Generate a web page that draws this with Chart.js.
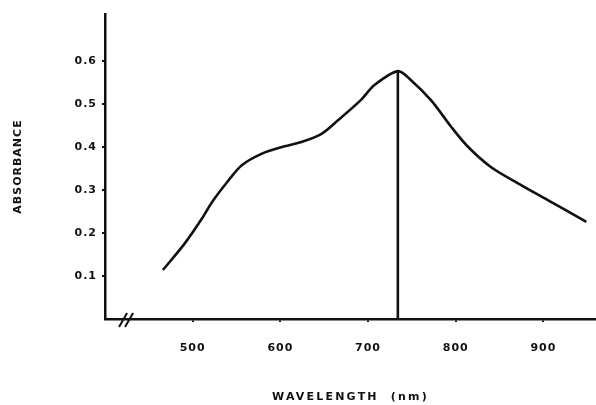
<!DOCTYPE html>
<html>
<head>
<meta charset="utf-8">
<script src="https://cdn.jsdelivr.net/npm/chart.js@4"></script>
<style>
  html, body { margin: 0; padding: 0; background: #fff; }
  #wrap { width: 596px; height: 405px; }
</style>
</head>
<body>
<div id="wrap"><canvas id="chart"></canvas></div>
<script>
// Absorbance spectrum
const WAVELENGTHS = [466, 491, 510, 522, 541, 556, 579, 601, 624, 647, 666, 692, 707, 734, 749, 772, 795, 814, 840, 871, 905, 949];
const ABSORBANCE = [0.114, 0.176, 0.232, 0.272, 0.323, 0.358, 0.385, 0.400, 0.412, 0.431, 0.463, 0.51, 0.544, 0.577, 0.556, 0.509, 0.447, 0.401, 0.354, 0.316, 0.277, 0.226];

// Peak marker line
const PEAK_X = [734, 734];
const PEAK_Y = [0, 0.577];

// Tick labels
const X_TICKS = [500, 600, 700, 800, 900];
const Y_TICKS = [0.1, 0.2, 0.3, 0.4, 0.5, 0.6];

const INK = '#111';

// Spaced-out lettering like the original typewritten labels
const TITLE_SPACING = { x: '2.2px', y: '1px' };
const letterSpacing = {
    id: 'letterSpacing',
    beforeDraw(chart) {
        const ctx = chart.ctx;
        Object.values(chart.scales).forEach(scale => {
            if (scale._spaced) return;
            const orig = scale.drawTitle;
            scale.drawTitle = function () {
                ctx.letterSpacing = TITLE_SPACING[this.id] || '0px';
                orig.call(this);
                ctx.letterSpacing = '1px';
            };
            scale._spaced = true;
        });
        ctx.letterSpacing = '1px';
    },
    afterDraw(chart) { chart.ctx.letterSpacing = '0px'; }
};

// The "//" break mark on the x axis
const axisBreak = {
    id: 'axisBreak',
    afterDraw(chart) {
        const ctx = chart.ctx;
        const x = chart.scales.x.getPixelForValue(424);
        const y = chart.scales.x.top;
        ctx.save();
        ctx.strokeStyle = INK;
        ctx.lineWidth = 2;
        [-3, 3].forEach(dx => {
            ctx.beginPath();
            ctx.moveTo(x + dx - 4, y + 8);
            ctx.lineTo(x + dx + 4, y - 6);
            ctx.stroke();
        });
        ctx.restore();
    }
};

const tickFont = { family: 'DejaVu Sans', size: 11, weight: 'bold' };
const titleFont = { family: 'DejaVu Sans', size: 11, weight: 'bold' };

new Chart(document.getElementById('chart'), {
    type: 'scatter',
    data: {
        datasets: [
            {
                data: WAVELENGTHS.map((w, i) => ({ x: w, y: ABSORBANCE[i] })),
                showLine: true,
                borderColor: INK,
                borderWidth: 2.6,
                pointRadius: 0,
                tension: 0.3
            },
            {
                data: PEAK_X.map((w, i) => ({ x: w, y: PEAK_Y[i] })),
                showLine: true,
                borderColor: INK,
                borderWidth: 2.6,
                pointRadius: 0
            }
        ]
    },
    options: {
        responsive: true,
        maintainAspectRatio: false,
        animation: false,
        layout: { padding: { top: 14, left: 0, right: 0, bottom: 0 } },
        plugins: {
            legend: { display: false },
            tooltip: { enabled: false }
        },
        scales: {
            x: {
                type: 'linear',
                min: 400,
                max: 960,
                afterBuildTicks: scale => { scale.ticks = X_TICKS.map(v => ({ value: v })); },
                afterFit: scale => { scale.height = 86; },
                border: { display: true, color: INK, width: 2.5 },
                grid: { drawOnChartArea: false, drawTicks: true, tickLength: 3, color: INK, lineWidth: 2 },
                ticks: { color: INK, font: tickFont, padding: 20, maxRotation: 0 },
                title: {
                    display: true,
                    text: 'WAVELENGTH  (nm)',
                    color: INK,
                    font: titleFont,
                    padding: { top: 0, bottom: 1 }
                }
            },
            y: {
                min: 0,
                max: 0.71,
                afterBuildTicks: scale => { scale.ticks = Y_TICKS.map(v => ({ value: v })); },
                afterFit: scale => { scale.width = 105; },
                border: { display: true, color: INK, width: 2.5 },
                grid: { drawOnChartArea: false, drawTicks: true, tickLength: 3, color: INK, lineWidth: 2 },
                ticks: { color: INK, font: tickFont, padding: 5, callback: v => v.toFixed(1) },
                title: {
                    display: true,
                    text: 'ABSORBANCE',
                    color: INK,
                    font: titleFont,
                    padding: { top: 12, bottom: 0 }
                }
            }
        }
    },
    plugins: [letterSpacing, axisBreak]
});
</script>
</body>
</html>
